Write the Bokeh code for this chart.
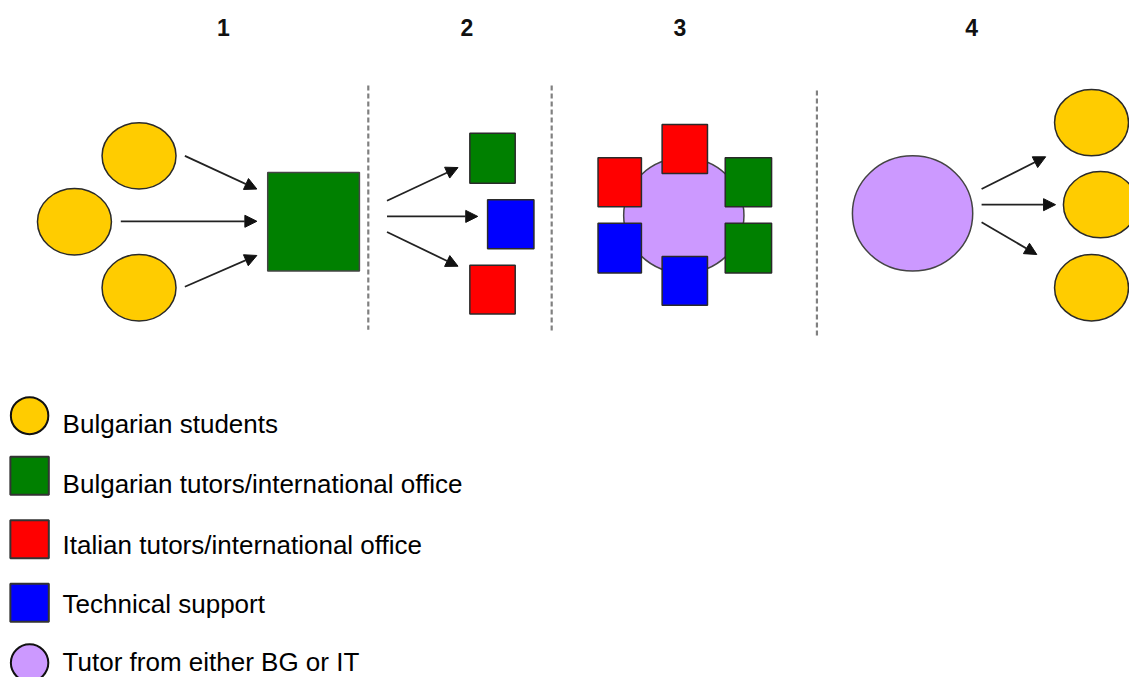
from bokeh.plotting import figure
from bokeh.models import Range1d, ColumnDataSource, Arrow, NormalHead
from bokeh.core.properties import value
from bokeh.embed import file_html
from bokeh.resources import INLINE

# ---- diagram data (reference pixel coordinates, y downward) ----
step_labels = ["1", "2", "3", "4"]
step_x = [226, 473, 689, 985]
step_y = [28, 28, 28, 28]

# section 1: students -> Bulgarian office
s1_students_x = [140.5, 75, 140.5]
s1_students_y = [159, 226.5, 294]
s1_office = dict(left=[271], right=[364], top=[176], bottom=[277])
s1_arrows = dict(x0=[187, 122, 187], y0=[159, 226, 293],
                 x1=[260, 260, 260], y1=[193, 226, 261])

# section 2: fan-out to three offices
s2_left = [476, 494, 476]
s2_right = [522, 541, 522]
s2_top = [136, 204, 271]
s2_bottom = [187, 254, 321]
s2_colors = ["#008000", "#0000FF", "#FF0000"]
s2_arrows = dict(x0=[392, 392, 392], y0=[205, 221, 237],
                 x1=[464, 484, 464], y1=[171, 221, 272])

# section 3: tutor surrounded by offices
s3_tutor_x = [693]
s3_tutor_y = [220]
s3_left = [671, 606, 735, 606, 735, 671]
s3_right = [717, 650, 782, 650, 782, 717]
s3_top = [127, 161, 161, 228, 228, 262]
s3_bottom = [177, 211, 211, 279, 279, 312]
s3_colors = ["#FF0000", "#FF0000", "#008000", "#0000FF", "#008000", "#0000FF"]

# section 4: tutor -> students
s4_tutor_x = [925]
s4_tutor_y = [218]
s4_students_x = [1106.5, 1115.5, 1106.5]
s4_students_y = [125, 209, 294]
s4_arrows = dict(x0=[995, 995, 995], y0=[193, 209, 227],
                 x1=[1060, 1070, 1051], y1=[160, 209, 260])

# separators
sep_x = [373, 559, 828]
sep_y0 = [87, 87, 92]
sep_y1 = [337, 338, 343]

# legend
legend_labels = ["Bulgarian students", "Bulgarian tutors/international office",
                 "Italian tutors/international office", "Technical support",
                 "Tutor from either BG or IT"]
legend_kind = ["circle", "square", "square", "square", "circle"]
legend_colors = ["#FFCC00", "#008000", "#FF0000", "#0000FF", "#CC99FF"]
legend_icon_y = [425, 486.5, 551.5, 616.5, 678]
legend_text_y = [434, 495, 557, 618, 677]

YELLOW = "#FFCC00"
PURPLE = "#CC99FF"
OUT = "#2a2a2a"

p = figure(width=1129, height=677, output_backend="svg", toolbar_location=None,
           x_range=Range1d(0, 1145), y_range=Range1d(693, 0),
           min_border=0, x_axis_type=None, y_axis_type=None)
p.grid.visible = False
p.outline_line_color = None
p.background_fill_color = "white"
p.border_fill_color = "white"

# step numbers
p.text(x=step_x, y=step_y, text=step_labels, text_align="center",
       text_baseline="middle", text_font=value("Liberation Sans"),
       text_font_style="bold", text_font_size="23px", text_color="#111111")

# separators
p.segment(x0=sep_x, y0=sep_y0, x1=sep_x, y1=sep_y1, line_color="#808080",
          line_width=2.2, line_dash="5 3")

# section 1
p.ellipse(x=s1_students_x, y=s1_students_y, width=75, height=68,
          fill_color=YELLOW, line_color=OUT, line_width=1.5)
p.quad(fill_color="#008000", line_color="#444444", line_width=1.5, **s1_office)

# section 2
p.quad(left=s2_left, right=s2_right, top=s2_top, bottom=s2_bottom,
       fill_color=s2_colors, line_color=OUT, line_width=1.5)

# section 3
p.ellipse(x=s3_tutor_x, y=s3_tutor_y, width=122, height=118,
          fill_color=PURPLE, line_color="#444444", line_width=1.5)
p.quad(left=s3_left, right=s3_right, top=s3_top, bottom=s3_bottom,
       fill_color=s3_colors, line_color=OUT, line_width=1.5)

# section 4
p.ellipse(x=s4_tutor_x, y=s4_tutor_y, width=122, height=118,
          fill_color=PURPLE, line_color="#444444", line_width=1.5)
p.ellipse(x=s4_students_x, y=s4_students_y, width=75, height=68,
          fill_color=YELLOW, line_color=OUT, line_width=1.5)

# arrows
for arr in (s1_arrows, s2_arrows, s4_arrows):
    src = ColumnDataSource(dict(x0=arr["x0"], y0=arr["y0"], x1=arr["x1"], y1=arr["y1"]))
    p.add_layout(Arrow(end=NormalHead(size=12, fill_color="#111111", line_color="#111111", line_width=1),
                       x_start="x0", y_start="y0", x_end="x1", y_end="y1",
                       source=src, line_color="#222222", line_width=1.8))

# legend
for kind, col, yi in zip(legend_kind, legend_colors, legend_icon_y):
    if kind == "circle":
        p.ellipse(x=[29.5], y=[yi], width=38, height=38, fill_color=col,
                  line_color="#111111", line_width=2)
    else:
        p.quad(left=[10], right=[49], top=[yi - 19.5], bottom=[yi + 19.5],
               fill_color=col, line_color="#333333", line_width=2)

p.text(x=[63] * len(legend_labels), y=legend_text_y, text=legend_labels,
       text_align="left", text_baseline="middle",
       text_font=value("Liberation Sans"), text_font_size="26px",
       text_color="#000000")

open("out.html", "w").write(file_html(p, INLINE))
